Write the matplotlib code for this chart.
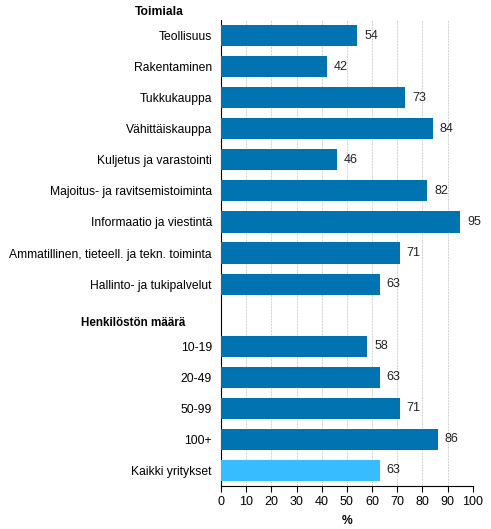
import matplotlib.pyplot as plt
from matplotlib.transforms import blended_transform_factory

plt.rcParams['font.family'] = ['Liberation Sans', 'DejaVu Sans']

# data
toimiala = ["Teollisuus", "Rakentaminen", "Tukkukauppa", "Vähittäiskauppa",
            "Kuljetus ja varastointi", "Majoitus- ja ravitsemistoiminta",
            "Informaatio ja viestintä",
            "Ammatillinen, tieteell. ja tekn. toiminta",
            "Hallinto- ja tukipalvelut"]
toimiala_values = [54, 42, 73, 84, 46, 82, 95, 71, 63]

koko = ["10-19", "20-49", "50-99", "100+"]
koko_values = [58, 63, 71, 86]

total_label = "Kaikki yritykset"
total_value = 63

headers = ["Toimiala", "Henkilöstön määrä"]

dark = '#0073b0'
light = '#36bcff'

# rows: toimiala, empty header row, size classes, total
labels = toimiala + [""] + koko + [total_label]
values = toimiala_values + [None] + koko_values + [total_value]
colors = [dark] * (len(labels) - 1) + [light]

fig = plt.figure(figsize=(4.91, 5.29), dpi=100)
ax = fig.add_axes([0.450, 0.0813, 0.513, 0.8807])

for i, (v, c) in enumerate(zip(values, colors)):
    if v is None:
        continue
    ax.barh(i, v, height=0.68, color=c, zorder=3)
    ax.text(v + 2.8, i, str(v), va='center', ha='left', fontsize=9,
            color='#222222')

ax.set_yticks(range(len(labels)))
ax.set_yticklabels(labels, fontsize=8.7)
ax.tick_params(axis='y', length=0, pad=6.5)
ax.set_ylim(len(labels) - 0.5, -0.5)

ax.set_xlim(0, 100)
ax.set_xticks(range(0, 101, 10))
ax.tick_params(axis='x', labelsize=9, length=4, direction='out')
ax.set_xlabel("%", fontsize=8.7, fontweight='bold', labelpad=5)

ax.grid(axis='x', color='#d2d2d2', linestyle=(0, (2, 1)), linewidth=0.7,
        zorder=0)
ax.spines['top'].set_visible(False)
ax.spines['right'].set_visible(False)

# group headers
trans = blended_transform_factory(ax.transAxes, ax.transData)
ax.text(-0.147, -0.76, headers[0], transform=trans, ha='right', va='center',
        fontsize=8.7, fontweight='bold', clip_on=False)
ax.text(-0.142, len(toimiala) + 0.24, headers[1], transform=trans,
        ha='right', va='center', fontsize=8.4, fontweight='bold')

fig.savefig("out.png", dpi=100)
